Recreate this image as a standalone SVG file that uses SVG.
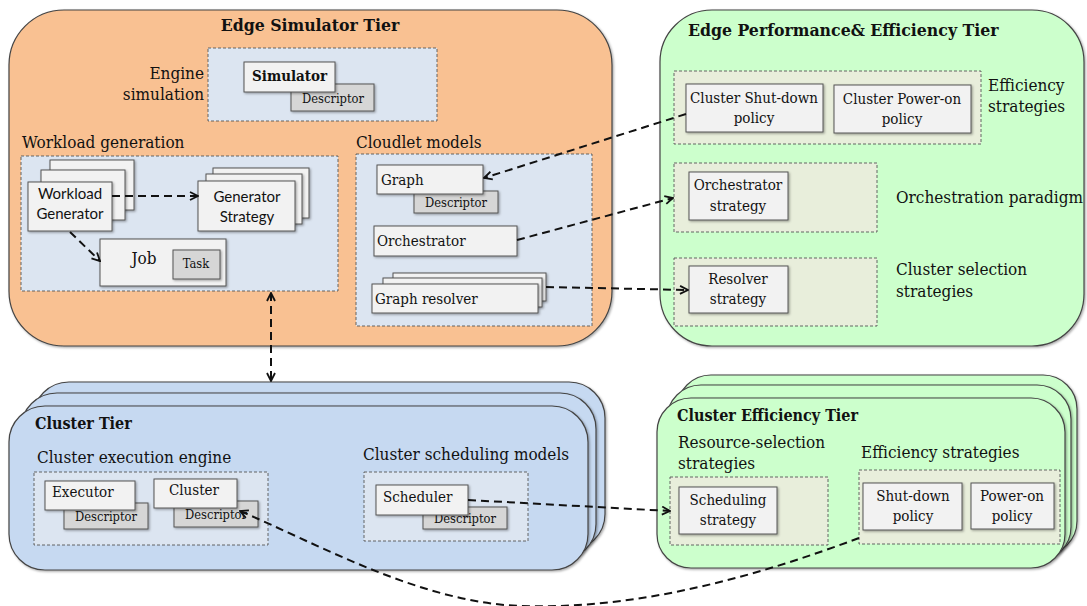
<svg xmlns="http://www.w3.org/2000/svg" width="1087" height="606" viewBox="0 0 1087 606">
  <defs>
    <filter id="shadow" x="-10%" y="-10%" width="130%" height="130%">
      <feDropShadow dx="1.2" dy="1.2" stdDeviation="0.9" flood-color="#000" flood-opacity="0.35"/>
    </filter>
    <marker id="arrow" viewBox="0 0 10 10" refX="9" refY="5" markerWidth="10" markerHeight="10" markerUnits="userSpaceOnUse" orient="auto-start-reverse">
      <path d="M1,1 L9,5 L1,9" fill="none" stroke="#111" stroke-width="1.8"/>
    </marker>
    <style>
      .tier-orange { fill: #F9C192; stroke: #444; stroke-width: 1.2; }
      .tier-green { fill: #CCFFCC; stroke: #444; stroke-width: 1.2; }
      .tier-blue { fill: #C6D9F1; stroke: #444; stroke-width: 1.2; }
      .group-blue { fill: #DCE5F1; stroke: #555; stroke-width: 0.9; stroke-dasharray: 3 2; }
      .group-beige { fill: #E8EEDB; stroke: #555; stroke-width: 0.9; stroke-dasharray: 3 2; }
      .node { fill: #F2F2F2; stroke: #555; stroke-width: 1; }
      .desc { fill: #D6D6D6; stroke: #555; stroke-width: 1; }
      .link { fill: none; stroke: #111; stroke-width: 2; stroke-dasharray: 8 5; }
      text { font-family: "DejaVu Serif", "Liberation Serif", serif; fill: #111; font-stretch: condensed; }
      .title { font-size: 17.5px; font-weight: bold; }
      .subtitle { font-size: 16px; font-weight: bold; }
      .label { font-size: 17px; }
      .ntext { font-size: 15px; }
      .dtext { font-size: 12.8px; }
      .sans { font-family: Lato, "Open Sans", "Liberation Sans", sans-serif; font-size: 15px; font-stretch: normal; }
      .mid { text-anchor: middle; }
      .end { text-anchor: end; }
    </style>
  </defs>

  <!-- Edge Simulator Tier -->
  <g id="edge-simulator-tier">
    <rect class="tier-orange" x="9" y="10" width="603" height="336" rx="55" ry="55" filter="url(#shadow)"/>
    <text class="title mid" x="310" y="31">Edge Simulator Tier</text>
  </g>

  <g id="engine-simulation">
    <rect class="group-blue" x="208" y="48" width="229" height="73"/>
    <text class="label end" x="204" y="79">Engine</text>
    <text class="label end" x="204" y="100">simulation</text>
  </g>
  <g id="simulator-descriptor">
    <rect class="desc" x="291" y="84" width="83" height="27" filter="url(#shadow)"/>
    <text class="dtext mid" x="333" y="103">Descriptor</text>
  </g>
  <g id="simulator">
    <rect class="node" x="244" y="62" width="91" height="30" filter="url(#shadow)"/>
    <text class="ntext" x="252" y="81" font-weight="bold" font-size="14.5">Simulator</text>
  </g>

  <g id="workload-generation">
    <text class="label" x="22" y="148">Workload generation</text>
    <rect class="group-blue" x="21" y="156" width="317" height="135"/>
  </g>
  <g id="workload-generator">
    <rect class="node" x="50" y="160" width="84" height="50" filter="url(#shadow)"/>
    <rect class="node" x="41" y="170" width="84" height="50" filter="url(#shadow)"/>
    <rect class="node" x="28" y="182" width="84" height="49" filter="url(#shadow)"/>
    <text class="sans mid" x="70" y="199">Workload</text>
    <text class="sans mid" x="70" y="219">Generator</text>
  </g>
  <g id="generator-strategy">
    <rect class="node" x="213" y="168" width="96" height="50" filter="url(#shadow)"/>
    <rect class="node" x="206" y="174" width="96" height="50" filter="url(#shadow)"/>
    <rect class="node" x="198" y="181" width="97" height="50" filter="url(#shadow)"/>
    <text class="sans mid" x="247" y="202">Generator</text>
    <text class="sans mid" x="247" y="222">Strategy</text>
  </g>
  <g id="job">
    <rect class="node" x="100" y="239" width="126" height="47" filter="url(#shadow)"/>
    <text class="label mid" x="144" y="264" font-size="16">Job</text>
  </g>
  <g id="task">
    <rect class="desc" x="173" y="250" width="47" height="29" filter="url(#shadow)"/>
    <text class="dtext mid" x="196" y="268">Task</text>
  </g>

  <g id="cloudlet-models">
    <text class="label" x="356" y="148">Cloudlet models</text>
    <rect class="group-blue" x="356" y="154" width="236" height="172"/>
  </g>
  <g id="graph-descriptor">
    <rect class="desc" x="414" y="191" width="84" height="22" filter="url(#shadow)"/>
    <text class="dtext mid" x="456" y="207">Descriptor</text>
  </g>
  <g id="graph">
    <rect class="node" x="377" y="165" width="106" height="29" filter="url(#shadow)"/>
    <text class="ntext" x="381" y="185">Graph</text>
  </g>
  <g id="orchestrator">
    <rect class="node" x="374" y="226" width="143" height="30" filter="url(#shadow)"/>
    <text class="ntext" x="377" y="246">Orchestrator</text>
  </g>
  <g id="graph-resolver">
    <rect class="node" x="393" y="273" width="153" height="28" filter="url(#shadow)"/>
    <rect class="node" x="383" y="278" width="159" height="29" filter="url(#shadow)"/>
    <rect class="node" x="372" y="284" width="166" height="29" filter="url(#shadow)"/>
    <text class="ntext" x="375" y="304">Graph resolver</text>
  </g>

  <!-- Edge Performance & Efficiency Tier -->
  <g id="edge-performance-tier">
    <rect class="tier-green" x="660" y="10" width="424" height="336" rx="52" ry="52" filter="url(#shadow)"/>
    <text class="title" x="688" y="36">Edge Performance&amp; Efficiency Tier</text>
  </g>
  <g id="efficiency-strategies">
    <rect class="group-beige" x="674" y="71" width="307" height="73"/>
    <text class="label" x="988" y="91">Efficiency</text>
    <text class="label" x="988" y="112">strategies</text>
  </g>
  <g id="cluster-shutdown-policy">
    <rect class="node" x="686" y="84" width="137" height="48" filter="url(#shadow)"/>
    <text class="ntext mid" x="754" y="103">Cluster Shut-down</text>
    <text class="ntext mid" x="754" y="123">policy</text>
  </g>
  <g id="cluster-poweron-policy">
    <rect class="node" x="834" y="85" width="137" height="48" filter="url(#shadow)"/>
    <text class="ntext mid" x="902" y="104">Cluster Power-on</text>
    <text class="ntext mid" x="902" y="124">policy</text>
  </g>
  <g id="orchestration-paradigm">
    <rect class="group-beige" x="674" y="163" width="203" height="69"/>
    <text class="label" x="896" y="203">Orchestration paradigm</text>
  </g>
  <g id="orchestrator-strategy">
    <rect class="node" x="689" y="172" width="99" height="48" filter="url(#shadow)"/>
    <text class="ntext mid" x="738" y="190">Orchestrator</text>
    <text class="ntext mid" x="738" y="211">strategy</text>
  </g>
  <g id="cluster-selection">
    <rect class="group-beige" x="674" y="258" width="203" height="68"/>
    <text class="label" x="896" y="275">Cluster selection</text>
    <text class="label" x="896" y="297">strategies</text>
  </g>
  <g id="resolver-strategy">
    <rect class="node" x="689" y="266" width="99" height="47" filter="url(#shadow)"/>
    <text class="ntext mid" x="738" y="284">Resolver</text>
    <text class="ntext mid" x="738" y="304">strategy</text>
  </g>

  <!-- Cluster Tier -->
  <g id="cluster-tier">
    <rect class="tier-blue" x="33" y="382" width="572" height="168" rx="36" ry="36" filter="url(#shadow)"/>
    <rect class="tier-blue" x="21" y="393" width="575" height="167" rx="36" ry="36" filter="url(#shadow)"/>
    <rect class="tier-blue" x="9" y="406" width="579" height="164" rx="36" ry="36" filter="url(#shadow)"/>
    <text class="subtitle" x="35" y="429">Cluster Tier</text>
  </g>
  <g id="cluster-execution-engine">
    <text class="label" x="37" y="463">Cluster execution engine</text>
    <rect class="group-blue" x="34" y="472" width="234" height="73"/>
  </g>
  <g id="executor-descriptor">
    <rect class="desc" x="64" y="503" width="84" height="26" filter="url(#shadow)"/>
    <text class="dtext mid" x="106" y="521">Descriptor</text>
  </g>
  <g id="executor">
    <rect class="node" x="45" y="481" width="90" height="29" filter="url(#shadow)"/>
    <text class="ntext" x="52" y="497">Executor</text>
  </g>
  <g id="cluster-descriptor">
    <rect class="desc" x="174" y="501" width="84" height="26" filter="url(#shadow)"/>
    <text class="dtext mid" x="216" y="519">Descriptor</text>
  </g>
  <g id="cluster">
    <rect class="node" x="154" y="479" width="83" height="29" filter="url(#shadow)"/>
    <text class="ntext mid" x="194" y="495">Cluster</text>
  </g>
  <g id="cluster-scheduling-models">
    <text class="label" x="363" y="460">Cluster scheduling models</text>
    <rect class="group-blue" x="364" y="472" width="164" height="69"/>
  </g>
  <g id="scheduler-descriptor">
    <rect class="desc" x="423" y="507" width="84" height="22" filter="url(#shadow)"/>
    <text class="dtext mid" x="465" y="523">Descriptor</text>
  </g>
  <g id="scheduler">
    <rect class="node" x="376" y="485" width="92" height="30" filter="url(#shadow)"/>
    <text class="ntext" x="383" y="502">Scheduler</text>
  </g>

  <!-- Cluster Efficiency Tier -->
  <g id="cluster-efficiency-tier">
    <rect class="tier-green" x="677" y="375" width="400" height="180" rx="34" ry="34" filter="url(#shadow)"/>
    <rect class="tier-green" x="667" y="385" width="404" height="176" rx="34" ry="34" filter="url(#shadow)"/>
    <rect class="tier-green" x="657" y="398" width="408" height="170" rx="34" ry="34" filter="url(#shadow)"/>
    <text class="subtitle" x="677" y="421">Cluster Efficiency Tier</text>
  </g>
  <g id="resource-selection-strategies">
    <text class="label" x="678" y="448">Resource-selection</text>
    <text class="label" x="678" y="469">strategies</text>
    <rect class="group-beige" x="670" y="477" width="158" height="68"/>
  </g>
  <g id="scheduling-strategy">
    <rect class="node" x="679" y="487" width="98" height="47" filter="url(#shadow)"/>
    <text class="ntext mid" x="728" y="505">Scheduling</text>
    <text class="ntext mid" x="728" y="525">strategy</text>
  </g>
  <g id="cluster-efficiency-strategies">
    <text class="label" x="861" y="458">Efficiency strategies</text>
    <rect class="group-beige" x="859" y="470" width="201" height="74"/>
  </g>
  <g id="shutdown-policy">
    <rect class="node" x="863" y="483" width="99" height="47" filter="url(#shadow)"/>
    <text class="ntext mid" x="913" y="501">Shut-down</text>
    <text class="ntext mid" x="913" y="521">policy</text>
  </g>
  <g id="poweron-policy">
    <rect class="node" x="971" y="483" width="83" height="46" filter="url(#shadow)"/>
    <text class="ntext mid" x="1012" y="501">Power-on</text>
    <text class="ntext mid" x="1012" y="521">policy</text>
  </g>

  <!-- Connectors -->
  <g id="connectors">
    <path class="link" d="M112,196 L198,196" marker-end="url(#arrow)"/>
    <path class="link" d="M70,232 L100,261" marker-end="url(#arrow)"/>
    <path class="link" d="M686,114 L484,178" marker-end="url(#arrow)"/>
    <path class="link" d="M517,240 L673,198" marker-end="url(#arrow)"/>
    <path class="link" d="M546,287 L688,290" marker-end="url(#arrow)"/>
    <path class="link" d="M271,293 L271,381" marker-start="url(#arrow)" marker-end="url(#arrow)"/>
    <path class="link" d="M468,500 L670,511" marker-end="url(#arrow)"/>
    <path class="link" d="M859,538 C760,575 640,610 520,606 C420,602 320,545 240,511" marker-end="url(#arrow)"/>
  </g>
</svg>
